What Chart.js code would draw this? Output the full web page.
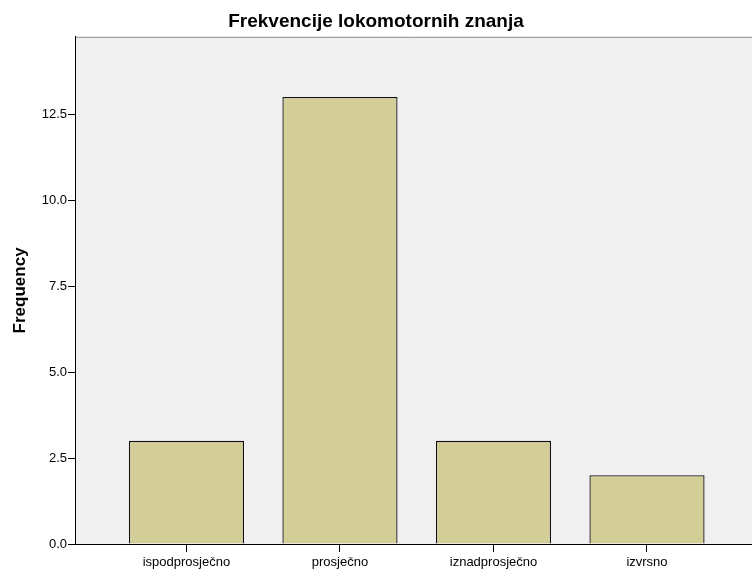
<!DOCTYPE html>
<html>
<head>
<meta charset="utf-8">
<script src="https://cdn.jsdelivr.net/npm/chart.js@4.4.1/dist/chart.umd.min.js"></script>
<style>
  html, body { margin: 0; padding: 0; background: #fff; overflow: hidden; }
  #wrap { width: 752px; height: 570px; }
</style>
</head>
<body>
<div id="wrap"><canvas id="barChart"></canvas></div>
<script>
const categories = ['ispodprosječno', 'prosječno', 'iznadprosječno', 'izvrsno'];
const frequencies = [3, 13, 3, 2];
const yTicks = [0, 2.5, 5, 7.5, 10, 12.5];

const barChart = document.getElementById('barChart');

// grey plot background + top frame line, like the SPSS output
const plotBackground = {
    id: 'plotBackground',
    beforeDraw(chart) {
        const { ctx, chartArea } = chart;
        ctx.save();
        ctx.fillStyle = '#f0f0f0';
        ctx.fillRect(chartArea.left, chartArea.top, chartArea.right - chartArea.left, chartArea.bottom - chartArea.top);
        ctx.strokeStyle = '#8c8c8c';
        ctx.lineWidth = 1;
        ctx.beginPath();
        ctx.moveTo(chartArea.left, chartArea.top + 0.5);
        ctx.lineTo(chartArea.right, chartArea.top + 0.5);
        ctx.stroke();
        ctx.restore();
    }
};

new Chart(barChart, {
    type: 'bar',
    data: {
        datasets: [{
            label: 'Frequency',
            data: frequencies.map((v, i) => ({ x: i, y: v })),
            backgroundColor: '#d3ce98',
            borderColor: '#111',
            borderWidth: 1.3,
            barPercentage: 0.75,
            categoryPercentage: 1
        }]
    },
    options: {
        responsive: true,
        maintainAspectRatio: false,
        animation: false,
        layout: { padding: 0 },
        plugins: {
            legend: { display: false },
            tooltip: { enabled: false },
            title: {
                display: true,
                text: 'Frekvencije lokomotornih znanja',
                color: '#000',
                font: { family: 'Liberation Sans, Arial', size: 19, weight: 'bold', lineHeight: 1.2 },
                padding: { top: 10, bottom: 4 }
            }
        },
        scales: {
            x: {
                type: 'linear',
                offset: false,
                min: -0.726,
                max: 3.684,
                afterBuildTicks(scale) {
                    scale.ticks = categories.map((c, i) => ({ value: i }));
                },
                afterFit(scale) { scale.height = 26; },
                border: { display: true, color: '#000', width: 1 },
                grid: { offset: false, drawOnChartArea: false, drawTicks: true, tickLength: 8, color: '#000' },
                ticks: {
                    autoSkip: false,
                    maxRotation: 0,
                    padding: 3,
                    color: '#000',
                    font: { family: 'Liberation Sans, Arial', size: 13 },
                    callback: (v) => categories[v]
                }
            },
            y: {
                min: 0,
                max: 14.75,
                afterBuildTicks(scale) {
                    scale.ticks = yTicks.map(v => ({ value: v }));
                },
                afterFit(scale) { scale.width = 75; },
                border: { display: true, color: '#000', width: 1 },
                grid: { drawOnChartArea: false, drawTicks: true, tickLength: 7, color: '#000' },
                ticks: {
                    padding: 1,
                    color: '#000',
                    font: { family: 'Liberation Sans, Arial', size: 13 },
                    callback: (v) => v.toFixed(1)
                },
                title: {
                    display: true,
                    text: 'Frequency',
                    color: '#000',
                    font: { family: 'Liberation Sans, Arial', size: 17, weight: 'bold' },
                    padding: { top: 10, bottom: 4 }
                }
            }
        }
    },
    plugins: [plotBackground]
});
</script>
</body>
</html>
